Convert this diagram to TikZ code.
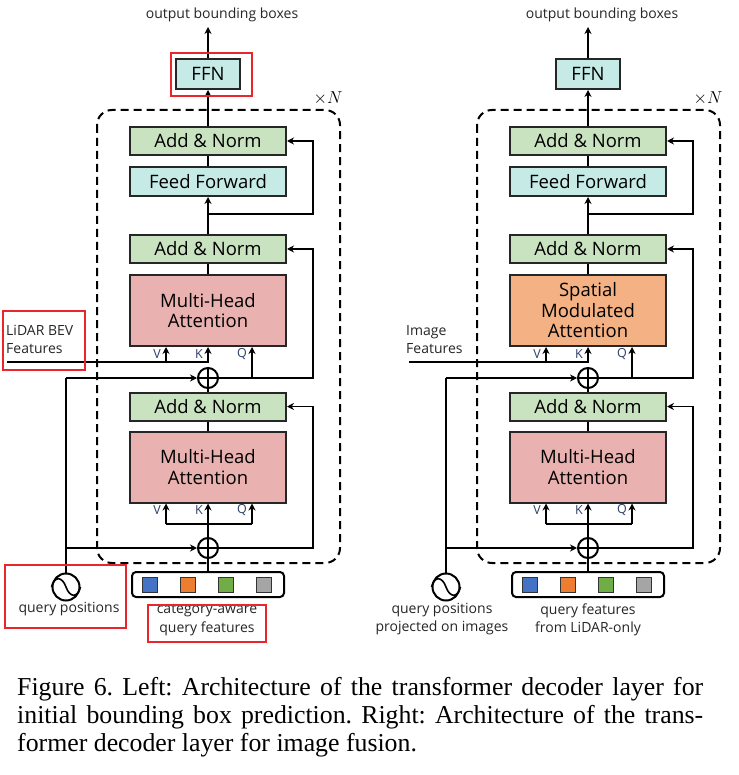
\documentclass[tikz,border=0pt]{standalone}
\usepackage{fontspec}
\newfontfamily\osans{Open Sans}
\newfontfamily\tnr{Liberation Serif}
\usetikzlibrary{arrows.meta,calc}
\definecolor{cgreen}{HTML}{C9E2C0}
\definecolor{ccyan}{HTML}{C6EBE7}
\definecolor{cpink}{HTML}{E9B1B0}
\definecolor{corange}{HTML}{F4B183}
\definecolor{cblue}{HTML}{4472C4}
\definecolor{corg}{HTML}{ED7D31}
\definecolor{cgrn}{HTML}{70AD47}
\definecolor{cgray}{HTML}{A5A5A5}
\definecolor{redc}{HTML}{E8262B}
\definecolor{vkqc}{HTML}{2E3F66}
\tikzset{
 conn/.style={line width=1.8pt, draw=black},
 arr/.style={conn, -{Stealth[length=7pt,width=7pt]}},
 blk/.style={draw=black!85, line width=2pt, inner sep=0pt, align=center, font=\osans\fontsize{18.5}{20.5}\selectfont, minimum width=156pt},
 addn/.style={blk, fill=cgreen, minimum height=28pt},
 ffw/.style={blk, fill=ccyan, minimum height=29pt},
 mha/.style={blk, fill=cpink, minimum height=71pt},
 sma/.style={blk, fill=corange, minimum height=71pt},
 oplus/.style={circle, draw, line width=2pt, minimum size=20pt, inner sep=0pt,
   path picture={\draw[line width=2pt] (path picture bounding box.north) -- (path picture bounding box.south) (path picture bounding box.west) -- (path picture bounding box.east);}},
 lbl/.style={font=\osans\fontsize{14}{18.5}\selectfont, text=black!85, inner sep=0pt, align=center},
 vkq/.style={font=\osans\fontsize{12.5}{12.5}\selectfont, text=vkqc, inner sep=0pt},
 redbox/.style={draw=redc, line width=2pt},
 dashbox/.style={draw, line width=2pt, dash pattern=on 8pt off 5pt, rounded corners=15pt},
 sq/.style={draw=black!80, line width=0.8pt, minimum size=15pt, inner sep=0pt},
 capt/.style={anchor=base west, inner sep=0pt, font=\tnr\fontsize{25.8}{28}\selectfont\frenchspacing},
}
\newcommand\decoder[5]{%
\begin{scope}[xshift=#2pt]
 \draw[dashbox] (97,110) rectangle (340,563);
 \node[font=\fontsize{19}{19}\selectfont, inner sep=0pt] (#1xn) at (328,98) {$\times N$};
 \node[blk, fill=ccyan, minimum width=64pt, minimum height=30pt] (#1ffn) at (208,74) {FFN};
 \coordinate (#1out) at (208,27);
 \node[lbl] (#1outlbl) at (222,15) {output bounding boxes};
 \draw[arr] (#1ffn.north) -- (#1out);
 \node[addn] (#1an1) at (208,141) {Add \& Norm};
 \node[ffw] (#1ff) at (208,181.5) {Feed Forward};
 \node[addn] (#1an2) at (208,249) {Add \& Norm};
 \node[#3] (#1att) at (208,310.5) {#4};
 \node[oplus] (#1p1) at (208,378) {};
 \node[addn] (#1an3) at (208,406.5) {Add \& Norm};
 \node[mha] (#1mha) at (208,467) {Multi-Head\\Attention};
 \node[oplus] (#1p2) at (208,548) {};
 \node[draw, line width=2pt, rounded corners=4pt, minimum width=152pt, minimum height=25pt, inner sep=0pt] (#1qf) at (208,584.5) {};
 \node[sq, fill=cblue] (#1s1) at (150,584.5) {};
 \node[sq, fill=corg] (#1s2) at (188,584.5) {};
 \node[sq, fill=cgrn] (#1s3) at (226,584.5) {};
 \node[sq, fill=cgray] (#1s4) at (264,584.5) {};
 \node[circle, draw, line width=2pt, minimum size=27pt, inner sep=0pt] (#1qp) at (66,587) {};
 \draw[line width=1.6pt] (#1qp.west) .. controls +(3,-11) and +(-4,-11) .. (#1qp.center) .. controls +(4,11) and +(-3,11) .. (#1qp.east);
 % connectors
 \draw[arr] (#1an1.north) -- (#1ffn.south);
 \draw[conn] (#1ff.north) -- (#1an1.south);
 \draw[arr] (#1an2.north) -- (#1ff.south);
 \coordinate (#1r1) at (208,214);
 \coordinate (#1r1x) at (313,214);
 \draw[arr] (#1r1) -- (#1r1x) |- (#1an1.east);
 \draw[conn] (#1att.north) -- (#1an2.south);
 \coordinate (#1r2x) at (313,378);
 \draw[arr] (#1p1.east) -- (#1r2x) |- (#1an2.east);
 \coordinate (#1q1) at (252,378);
 \draw[arr] (#1q1) -- (#1q1 |- #1att.south);
 \coordinate (#1in) at (#5,362);
 \coordinate (#1k1) at (208,362);
 \coordinate (#1v1) at (166,362);
 \draw[arr] (#1in) -- (#1k1) -- (#1att.south);
 \draw[arr] (#1v1) -- (#1v1 |- #1att.south);
 \draw[conn] (#1an3.north) -- (#1p1.south);
 \draw[conn] (#1mha.north) -- (#1an3.south);
 \coordinate (#1r3x) at (313,548);
 \draw[arr] (#1p2.east) -- (#1r3x) |- (#1an3.east);
 \coordinate (#1bv) at (166,524);
 \coordinate (#1bq) at (252,524);
 \draw[arr] (#1p2.north) -- (#1mha.south);
 \draw[conn] (#1bv) -- (#1bq);
 \draw[arr] (#1bv) -- (#1bv |- #1mha.south);
 \draw[arr] (#1bq) -- (#1bq |- #1mha.south);
 \draw[conn] (#1qf.north) -- (#1p2.south);
 \coordinate (#1l1) at (66,378);
 \coordinate (#1l2) at (66,548);
 \draw[conn] (#1qp.north) -- (#1l1);
 \draw[arr] (#1l1) -- (#1p1.west);
 \draw[arr] (#1l2) -- (#1p2.west);
 % V K Q labels
 \node[vkq] (#1lv1) at (157,354) {V};
 \node[vkq] (#1lk1) at (199,354) {K};
 \node[vkq] (#1lq1) at (242,354) {Q};
 \node[vkq] (#1lv2) at (157,510) {V};
 \node[vkq] (#1lk2) at (199,510) {K};
 \node[vkq] (#1lq2) at (242,510) {Q};
\end{scope}}
\begin{document}
\begin{tikzpicture}[x=1pt,y=-1pt]
 \useasboundingbox[fill=white] (0,0) rectangle (738,775);
 \decoder{L}{0}{mha}{Multi-Head\\Attention}{7}
 \decoder{R}{380}{sma}{Spatial\\Modulated\\Attention}{29}
 % left labels
 \node[lbl, align=left, anchor=west] (lidar) at (6,339.5) {LiDAR BEV\\Features};
 \node[lbl] (qpl) at (69,609) {query positions};
 \node[lbl] (qfl) at (207,620) {category-aware\\query features};
 \draw[redbox] (171,53) rectangle (252,96);
 \draw[redbox] (3,311) rectangle (85,370);
 \draw[redbox] (5,565) rectangle (126,628);
 \draw[redbox] (148,605) rectangle (266,642);
 % right labels
 \node[lbl, align=left, anchor=west] (imgf) at (406,339.5) {Image\\Features};
 \node[lbl] (qpr) at (442,619) {query positions\\projected on images};
 \node[lbl] (qfr) at (588,620) {query features\\from LiDAR-only};
 % caption
 \node[capt] (cap1) at (17,695) {\makebox[686pt][s]{Figure 6. Left: Architecture of the transformer decoder layer for}};
 \node[capt] (cap2) at (17,723) {\makebox[686pt][s]{initial bounding box prediction. Right: Architecture of the trans-}};
 \node[capt] (cap3) at (17,751) {former decoder layer for image fusion.};
\end{tikzpicture}
\end{document}
